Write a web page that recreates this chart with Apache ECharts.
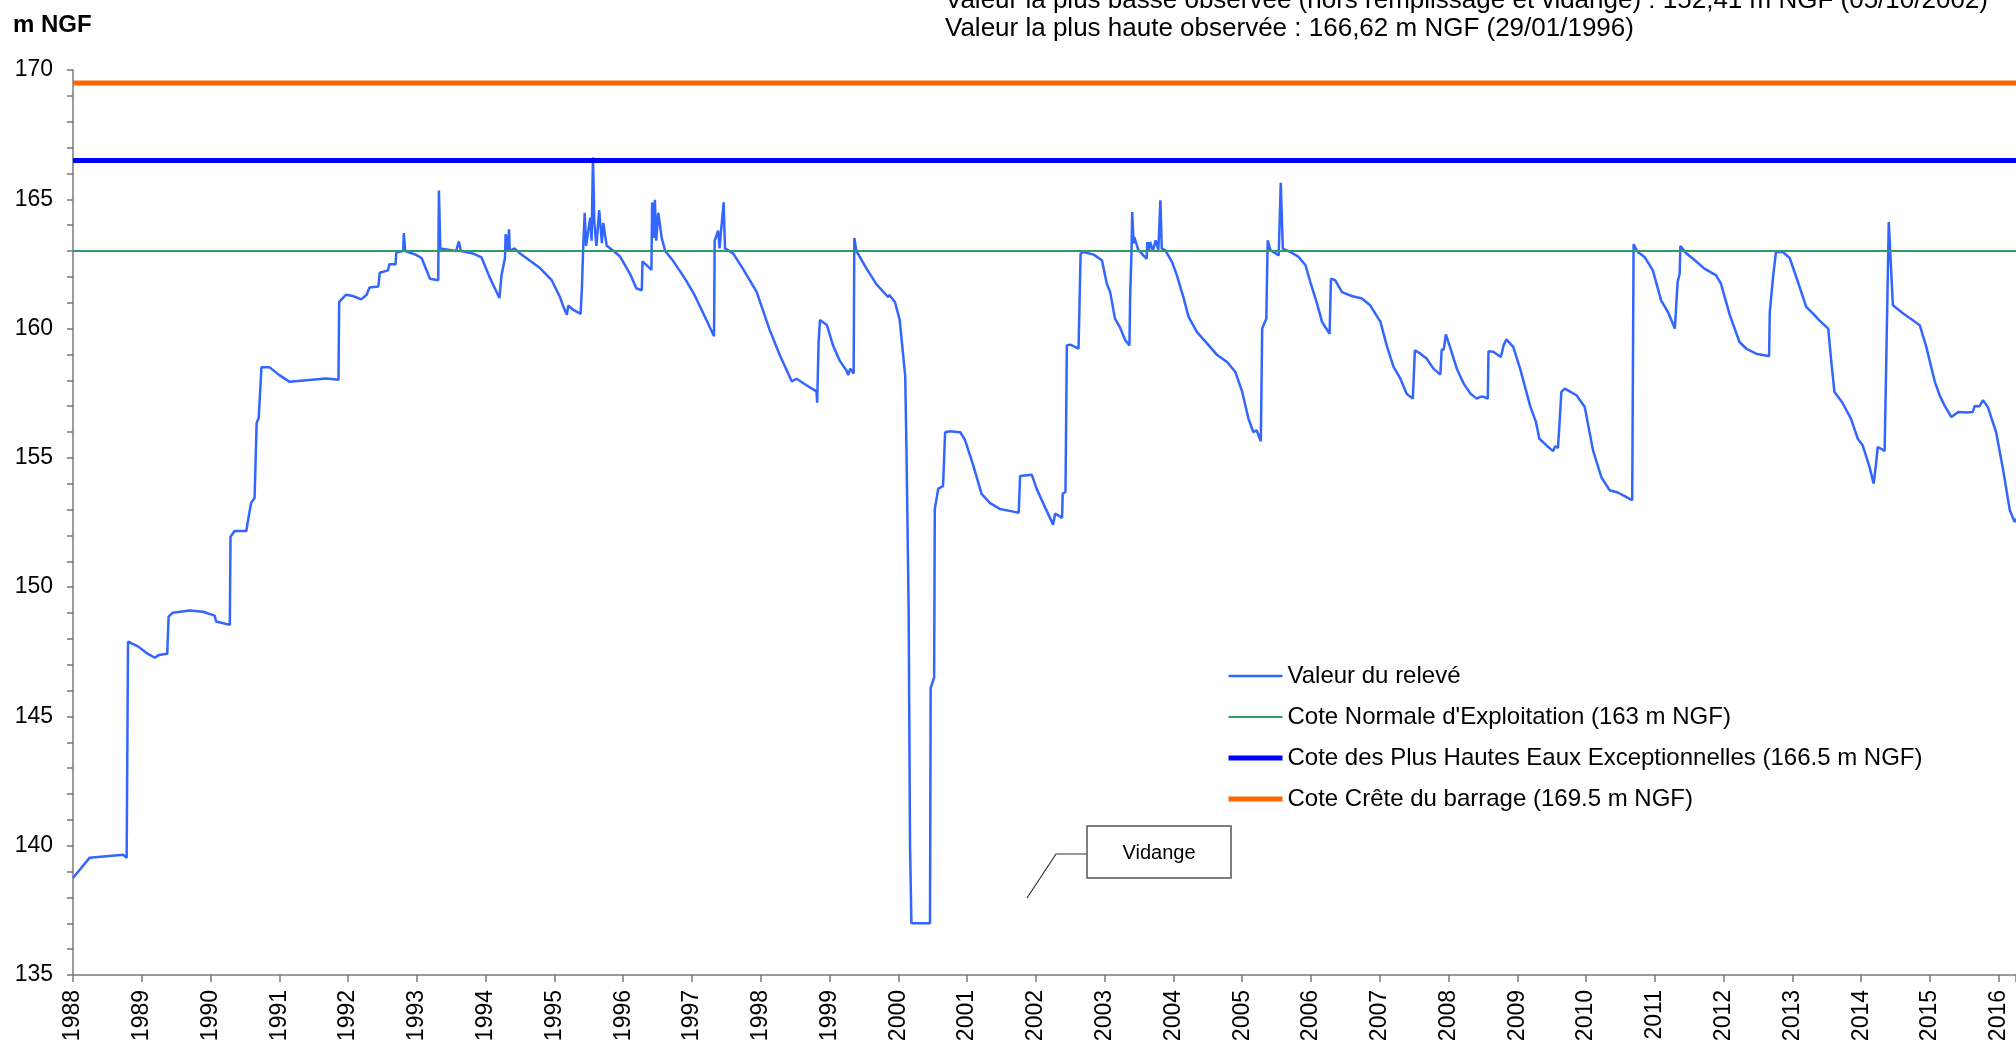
<!DOCTYPE html>
<html>
<head>
<meta charset="utf-8">
<script src="https://cdn.jsdelivr.net/npm/echarts@6/dist/echarts.min.js"></script>
<style>
  html, body { margin: 0; padding: 0; background: #fff; }
  #chart { width: 2016px; height: 1040px; }
</style>
</head>
<body>
<div id="chart"></div>
<script>
// relevés (année décimale, m NGF)
const years = [
  1988.00, 1988.24, 1988.73, 1988.78, 1988.79, 1988.80, 1988.85, 1988.95, 1989.07, 1989.19,
  1989.25, 1989.37, 1989.39, 1989.45, 1989.70, 1989.89, 1990.06, 1990.08, 1990.28, 1990.29,
  1990.35, 1990.52, 1990.54, 1990.59, 1990.64, 1990.67, 1990.70, 1990.74, 1990.86, 1991.00,
  1991.15, 1991.39, 1991.68, 1991.86, 1991.87, 1991.97, 1992.07, 1992.19, 1992.27, 1992.31,
  1992.44, 1992.46, 1992.58, 1992.60, 1992.69, 1992.70, 1992.80, 1992.81, 1992.83, 1992.99,
  1993.07, 1993.19, 1993.31, 1993.32, 1993.34, 1993.57, 1993.61, 1993.64, 1993.82, 1993.94,
  1994.06, 1994.20, 1994.23, 1994.28, 1994.29, 1994.31, 1994.34, 1994.35, 1994.42, 1994.50,
  1994.79, 1994.96, 1995.08, 1995.13, 1995.18, 1995.20, 1995.27, 1995.38, 1995.40, 1995.42,
  1995.44, 1995.46, 1995.52, 1995.54, 1995.56, 1995.58, 1995.61, 1995.65, 1995.69, 1995.71,
  1995.76, 1995.86, 1995.95, 1996.10, 1996.19, 1996.27, 1996.28, 1996.41, 1996.42, 1996.44,
  1996.46, 1996.48, 1996.51, 1996.56, 1996.61, 1996.73, 1996.90, 1997.04, 1997.21, 1997.32,
  1997.33, 1997.38, 1997.40, 1997.46, 1997.48, 1997.60, 1997.75, 1997.94, 1998.13, 1998.28,
  1998.45, 1998.52, 1998.67, 1998.81, 1998.82, 1998.84, 1998.86, 1998.96, 1999.05, 1999.15,
  1999.25, 1999.27, 1999.30, 1999.35, 1999.36, 1999.39, 1999.54, 1999.68, 1999.85, 1999.87,
  1999.95, 2000.02, 2000.10, 2000.12, 2000.15, 2000.17, 2000.19, 2000.46, 2000.47, 2000.52,
  2000.53, 2000.58, 2000.65, 2000.68, 2000.75, 2000.90, 2000.97, 2001.09, 2001.21, 2001.33,
  2001.48, 2001.67, 2001.75, 2001.77, 2001.94, 2002.01, 2002.11, 2002.21, 2002.25, 2002.28,
  2002.38, 2002.39, 2002.43, 2002.45, 2002.50, 2002.62, 2002.65, 2002.69, 2002.84, 2002.96,
  2003.03, 2003.08, 2003.15, 2003.22, 2003.30, 2003.36, 2003.37, 2003.39, 2003.40, 2003.42,
  2003.43, 2003.49, 2003.61, 2003.62, 2003.64, 2003.66, 2003.70, 2003.74, 2003.78, 2003.81,
  2003.83, 2003.88, 2003.98, 2004.05, 2004.15, 2004.22, 2004.34, 2004.49, 2004.63, 2004.78,
  2004.90, 2005.00, 2005.09, 2005.16, 2005.21, 2005.27, 2005.29, 2005.35, 2005.37, 2005.41,
  2005.53, 2005.56, 2005.59, 2005.70, 2005.82, 2005.92, 2005.99, 2006.08, 2006.16, 2006.27,
  2006.29, 2006.35, 2006.45, 2006.59, 2006.74, 2006.76, 2006.86, 2007.01, 2007.10, 2007.20,
  2007.30, 2007.39, 2007.48, 2007.51, 2007.59, 2007.68, 2007.78, 2007.88, 2007.90, 2007.93,
  2007.96, 2008.02, 2008.12, 2008.22, 2008.32, 2008.41, 2008.46, 2008.51, 2008.57, 2008.58,
  2008.65, 2008.76, 2008.80, 2008.84, 2008.94, 2009.04, 2009.19, 2009.27, 2009.32, 2009.42,
  2009.52, 2009.55, 2009.59, 2009.61, 2009.64, 2009.69, 2009.76, 2009.86, 2009.98, 2010.10,
  2010.22, 2010.34, 2010.46, 2010.58, 2010.67, 2010.69, 2010.75, 2010.85, 2010.97, 2011.09,
  2011.19, 2011.29, 2011.33, 2011.36, 2011.37, 2011.46, 2011.58, 2011.72, 2011.89, 2011.96,
  2012.09, 2012.23, 2012.33, 2012.47, 2012.57, 2012.66, 2012.67, 2012.72, 2012.76, 2012.86,
  2012.96, 2013.08, 2013.20, 2013.30, 2013.39, 2013.52, 2013.56, 2013.61, 2013.72, 2013.85,
  2013.95, 2014.02, 2014.12, 2014.18, 2014.21, 2014.24, 2014.34, 2014.40, 2014.46, 2014.61,
  2014.75, 2014.85, 2014.94, 2015.07, 2015.14, 2015.21, 2015.31, 2015.41, 2015.53, 2015.62,
  2015.65, 2015.72, 2015.77, 2015.84, 2015.96, 2016.06, 2016.16, 2016.23, 2016.25
]
const levels = [
  138.75, 139.53, 139.65, 139.53, 139.50, 147.89, 147.83, 147.70, 147.45, 147.27,
  147.38, 147.42, 148.86, 149.01, 149.10, 149.05, 148.90, 148.67, 148.54, 151.95,
  152.17, 152.17, 152.51, 153.26, 153.45, 156.35, 156.54, 158.50, 158.50, 158.20,
  157.94, 158.00, 158.07, 158.02, 161.03, 161.31, 161.26, 161.13, 161.31, 161.59,
  161.63, 162.16, 162.25, 162.49, 162.49, 162.94, 163.00, 163.69, 163.00, 162.85,
  162.72, 161.93, 161.87, 165.34, 163.10, 163.00, 163.37, 163.00, 162.90, 162.75,
  161.97, 161.18, 162.06, 162.72, 163.65, 163.00, 163.84, 163.00, 163.10, 162.90,
  162.34, 161.87, 161.22, 160.84, 160.53, 160.89, 160.73, 160.57, 161.62, 163.30,
  164.48, 163.20, 164.29, 163.40, 166.62, 164.09, 163.20, 164.58, 163.30, 164.09,
  163.20, 163.00, 162.80, 162.11, 161.56, 161.48, 162.60, 162.27, 164.88, 163.50,
  164.98, 163.40, 164.48, 163.50, 163.00, 162.60, 161.92, 161.28, 160.33, 159.70,
  163.40, 163.79, 163.10, 164.88, 163.10, 162.90, 162.27, 161.42, 159.94, 158.95,
  157.96, 158.06, 157.80, 157.57, 157.13, 159.44, 160.33, 160.14, 159.35, 158.75,
  158.36, 158.20, 158.45, 158.26, 163.50, 163.00, 162.31, 161.72, 161.22, 161.30,
  161.03, 160.33, 158.16, 155.00, 149.07, 139.98, 137.00, 137.00, 146.10, 146.50,
  153.02, 153.81, 153.91, 155.99, 156.03, 155.99, 155.69, 154.70, 153.61, 153.26,
  153.02, 152.92, 152.88, 154.30, 154.35, 153.81, 153.22, 152.65, 152.41, 152.85,
  152.68, 153.62, 153.68, 159.35, 159.38, 159.22, 162.90, 162.96, 162.86, 162.64,
  161.74, 161.41, 160.38, 160.06, 159.55, 159.35, 161.22, 162.96, 164.51, 163.30,
  163.54, 163.03, 162.70, 163.35, 163.00, 163.35, 163.00, 163.41, 163.05, 164.96,
  163.09, 163.03, 162.57, 162.06, 161.16, 160.45, 159.87, 159.42, 158.99, 158.71,
  158.32, 157.55, 156.52, 156.00, 156.06, 155.64, 160.00, 160.38, 163.41, 163.03,
  162.83, 165.64, 163.09, 162.96, 162.77, 162.45, 161.80, 161.03, 160.26, 159.80,
  161.93, 161.87, 161.41, 161.26, 161.16, 161.20, 160.90, 160.26, 159.35, 158.52,
  158.06, 157.48, 157.29, 159.16, 159.03, 158.84, 158.45, 158.22, 159.19, 159.19,
  159.77, 159.29, 158.45, 157.87, 157.48, 157.29, 157.36, 157.36, 157.29, 159.12,
  159.10, 158.90, 159.35, 159.58, 159.29, 158.45, 156.97, 156.39, 155.74, 155.49,
  155.26, 155.45, 155.38, 156.20, 157.55, 157.68, 157.57, 157.42, 156.97, 155.29,
  154.26, 153.75, 153.66, 153.49, 153.36, 163.26, 162.96, 162.77, 162.25, 161.09,
  160.64, 160.00, 161.80, 162.12, 163.19, 162.90, 162.64, 162.32, 162.06, 161.74,
  160.51, 159.48, 159.22, 159.03, 158.98, 158.93, 160.64, 162.06, 162.96, 162.96,
  162.73, 161.80, 160.84, 160.58, 160.32, 160.00, 158.84, 157.55, 157.16, 156.52,
  155.74, 155.49, 154.65, 154.00, 154.65, 155.42, 155.27, 164.12, 160.90, 160.58,
  160.32, 160.13, 159.35, 157.94, 157.42, 157.03, 156.58, 156.77, 156.75, 156.77,
  157.01, 157.00, 157.23, 156.97, 156.00, 154.58, 152.97, 152.52, 152.65
]

const seriesNames = [
  'Valeur du relevé',
  "Cote Normale d'Exploitation (163 m NGF)",
  'Cote des Plus Hautes Eaux Exceptionnelles (166.5 m NGF)',
  'Cote Crête du barrage (169.5 m NGF)'
]
const refLevels = [163, 166.5, 169.5]

const infoLines = [
  'Valeur la plus basse observée (hors remplissage et vidange) : 152,41 m NGF (05/10/2002)',
  'Valeur la plus haute observée : 166,62 m NGF (29/01/1996)'
]

const xMin = 1988
const xMax = 2016.25
const font = 'Liberation Sans, Arial, sans-serif'
const axisGrey = '#7a7a7a'

const chart = echarts.init(document.getElementById('chart'))

const lineColors = ['#3366ff', '#339966', '#0000ff', '#ff6600']
const lineWidths = [2.5, 2, 5, 5]

const series = [
  {
    name: seriesNames[0],
    type: 'line',
    symbol: 'none',
    data: years.map((y, i) => [y, levels[i]]),
    lineStyle: { color: lineColors[0], width: lineWidths[0] },
    itemStyle: { color: lineColors[0] }
  }
]
refLevels.forEach((lv, i) => {
  series.push({
    name: seriesNames[i + 1],
    type: 'line',
    symbol: 'none',
    data: [[xMin, lv], [xMax, lv]],
    lineStyle: { color: lineColors[i + 1], width: lineWidths[i + 1] },
    itemStyle: { color: lineColors[i + 1] }
  })
})

chart.setOption({
  animation: false,
  backgroundColor: '#fff',
  grid: { left: 73, right: 0, top: 70, bottom: 65, containLabel: false, outerBoundsMode: 'none' },
  xAxis: {
    type: 'value',
    min: xMin,
    max: xMax,
    interval: 1,
    axisLine: { lineStyle: { color: axisGrey, width: 1.5 } },
    axisTick: { show: true, length: 7, lineStyle: { color: axisGrey, width: 1.5 } },
    axisLabel: {
      rotate: 90,
      margin: 15,
      fontFamily: font,
      fontSize: 23,
      color: '#000',
      formatter: v => (Number.isInteger(v) ? String(v) : '')
    },
    splitLine: { show: false }
  },
  yAxis: {
    type: 'value',
    min: 135,
    max: 170,
    interval: 5,
    axisLine: { show: true, lineStyle: { color: axisGrey, width: 1.5 } },
    axisTick: { show: true, length: 6, lineStyle: { color: axisGrey, width: 1.5 } },
    minorTick: { show: true, splitNumber: 5, length: 6, lineStyle: { color: axisGrey, width: 1.5 } },
    axisLabel: { margin: 20, fontFamily: font, fontSize: 23, color: '#000' },
    splitLine: { show: false }
  },
  legend: {
    orient: 'vertical',
    left: 1221,
    top: 659,
    itemWidth: 54,
    itemHeight: 14,
    itemGap: 17,
    itemStyle: { opacity: 0 },
    data: seriesNames.map((n, i) => ({
      name: n,
      itemStyle: { opacity: 0 },
      lineStyle: { color: lineColors[i], width: lineWidths[i] }
    })),
    textStyle: { fontFamily: font, fontSize: 24, color: '#000', lineHeight: 24 }
  },
  graphic: [
    {
      type: 'text', left: 13, top: 13,
      style: { text: 'm NGF', font: 'bold 24px ' + font, fill: '#000' }
    },
    {
      type: 'text', x: 945, y: 1,
      style: { text: infoLines[0], font: '26px ' + font, fill: '#000', verticalAlign: 'middle' }
    },
    {
      type: 'text', x: 945, y: 29,
      style: { text: infoLines[1], font: '26px ' + font, fill: '#000', verticalAlign: 'middle' }
    },
    {
      type: 'polyline',
      shape: { points: [[1027, 898], [1056, 854], [1087, 854]] },
      style: { stroke: '#333', lineWidth: 1.2, fill: null }
    },
    {
      type: 'rect',
      shape: { x: 1087, y: 826, width: 144, height: 52 },
      style: { fill: '#fff', stroke: '#555', lineWidth: 1.5 }
    },
    {
      type: 'text', x: 1159, y: 853,
      style: { text: 'Vidange', font: '20px ' + font, fill: '#000', align: 'center', verticalAlign: 'middle' }
    }
  ],
  series: series
})
</script>
</body>
</html>
